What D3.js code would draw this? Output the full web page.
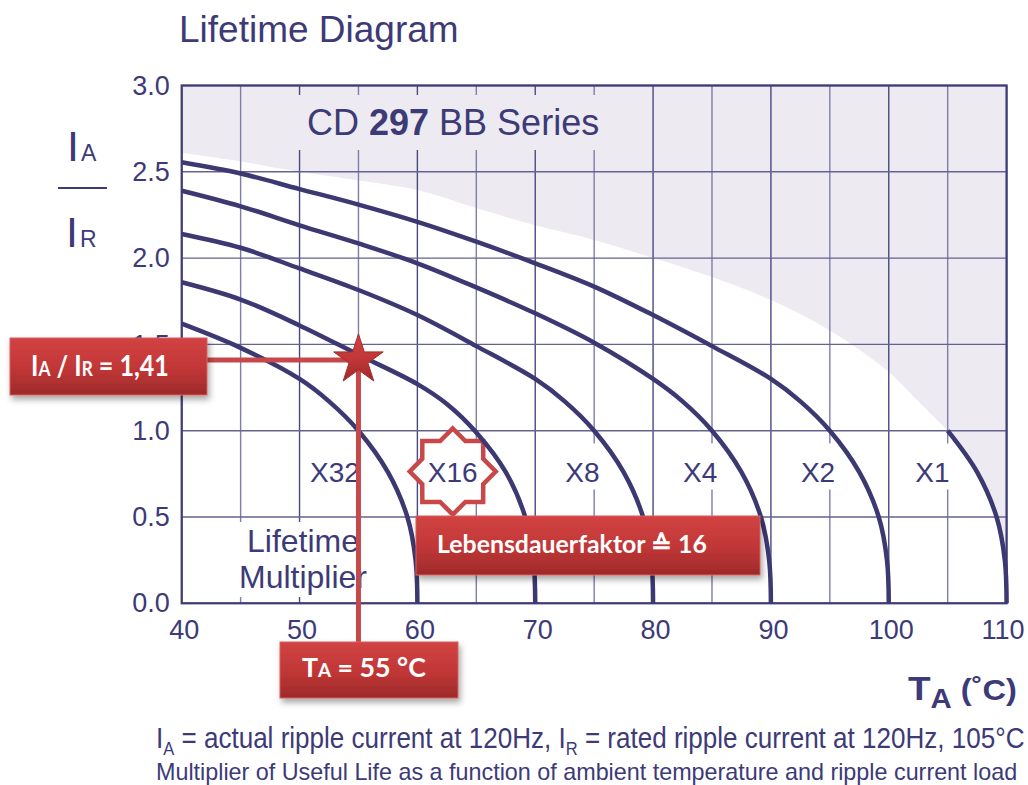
<!DOCTYPE html>
<html lang="en">
<head>
<meta charset="UTF-8">
<title>Lifetime Diagram</title>
<script src="https://d3js.org/d3.v7.min.js"></script>
<style>
  body { margin: 0; background: #fff; }
  svg { display: block; font-family: "Liberation Sans", Arial, sans-serif; }
  .note { font-family: Lato, "Open Sans", sans-serif; font-weight: bold; fill: #fff; }
</style>
</head>
<body>
<div id="chart"></div>
<script>
// axis ticks
var tempTicks = [40, 50, 60, 70, 80, 90, 100, 110];
var ratioTicks = [0.0, 0.5, 1.0, 1.5, 2.0, 2.5, 3.0];

// one curve per lifetime multiplier: ambient temperature (°C) -> IA/IR
var multipliers = ["X32", "X16", "X8", "X4", "X2", "X1"];
var curveTemps = [
    [40, 45, 50, 52.5, 55, 57.5, 59.15, 59.85, 60],
    [40, 45, 50, 55, 60, 62.5, 65, 67.5, 69.15, 69.85, 70],
    [40, 45, 50, 55, 60, 65, 70, 72.5, 75, 77.5, 79.15, 79.85, 80],
    [40, 45, 50, 55, 60, 65, 70, 75, 80, 82.5, 85, 87.5, 89.15, 89.85, 90],
    [40, 45, 50, 55, 60, 65, 70, 75, 80, 85, 90, 92.5, 95, 97.5, 99.15, 99.85, 100],
    [105, 107.5, 109.15, 109.85, 110]
];
var curveRatios = [
    [1.62, 1.48, 1.30, 1.17, 1.0, 0.76, 0.5, 0.25, 0],
    [1.86, 1.76, 1.61, 1.44, 1.27, 1.155, 0.99, 0.76, 0.5, 0.25, 0],
    [2.14, 2.06, 1.94, 1.815, 1.67, 1.49, 1.30, 1.17, 1.0, 0.76, 0.5, 0.25, 0],
    [2.39, 2.30, 2.19, 2.085, 1.97, 1.83, 1.68, 1.51, 1.30, 1.17, 1.0, 0.76, 0.5, 0.25, 0],
    [2.555, 2.49, 2.40, 2.31, 2.21, 2.095, 1.97, 1.835, 1.67, 1.49, 1.30, 1.17, 1.0, 0.76, 0.5, 0.25, 0],
    [1.0, 0.76, 0.5, 0.25, 0]
];
var labelTemps = [53, 63, 74, 84, 94, 103.7];
var labelRatio = 0.7;

// upper edge of the shaded area
var limitTemps = [40, 45, 50, 55, 60, 65, 70, 75, 80, 85, 90, 95, 100, 102.5, 105];
var limitRatios = [2.61, 2.56, 2.50, 2.45, 2.395, 2.29, 2.19, 2.105, 2.0, 1.89, 1.757, 1.58, 1.34, 1.17, 1.0];

// worked example
var exampleTemp = 55, exampleRatio = 1.41, exampleFactor = 16;

var navy = "#3d3a78",
    shade = "#edebf1";

var svg = d3.select("#chart").append("svg")
    .attr("width", 1028)
    .attr("height", 785);

var x = d3.scaleLinear().domain([40, 110]).range([181.7, 1006.6]);
var y = d3.scaleLinear().domain([0, 3]).range([603.3, 85.5]);

var defs = svg.append("defs");
var grad = defs.append("linearGradient").attr("id", "red")
    .attr("x1", 0).attr("y1", 0).attr("x2", 0).attr("y2", 1);
grad.append("stop").attr("offset", "0%").attr("stop-color", "#d24343");
grad.append("stop").attr("offset", "55%").attr("stop-color", "#c03636");
grad.append("stop").attr("offset", "100%").attr("stop-color", "#9d2a2a");
defs.append("filter").attr("id", "shadow")
    .attr("x", "-10%").attr("y", "-20%").attr("width", "130%").attr("height", "170%")
  .append("feDropShadow")
    .attr("dx", 2).attr("dy", 4).attr("stdDeviation", 3)
    .attr("flood-color", "#000").attr("flood-opacity", 0.35);

// stretch / squeeze a text so it covers a given width
function fit(sel, x0, w) {
    var bw = sel.node().getBBox().width;
    var k = w / bw;
    sel.attr("transform", "translate(" + x0 + ",0) scale(" + k + ",1) translate(" + (-x0) + ",0)");
}

var smooth = d3.line().curve(d3.curveCatmullRom.alpha(0.5));
function pts(ts, rs) { return ts.map(function(t, i) { return [x(t), y(rs[i])]; }); }

// shaded area above the limit and right of X1
var shadePath = smooth(pts(limitTemps, limitRatios)) +
    smooth(pts(curveTemps[5], curveRatios[5])).replace(/^M/, "L") +
    "L" + x(110) + "," + y(3) + "L" + x(40) + "," + y(3) + "Z";
svg.append("path").attr("d", shadePath).attr("fill", shade);

// grid
var gridG = svg.append("g");
gridG.selectAll("line.v").data(x.ticks(14)).join("line")
    .attr("class", "v")
    .attr("x1", function(d) { return x(d); })
    .attr("x2", function(d) { return x(d); })
    .attr("y1", y(3)).attr("y2", y(0))
    .attr("stroke", function(d) { return d % 10 === 0 ? "#4a4880" : "#7f7daa"; })
    .attr("stroke-width", 1.4);
gridG.selectAll("line.h").data(ratioTicks).join("line")
    .attr("class", "h")
    .attr("x1", x(40)).attr("x2", x(110))
    .attr("y1", function(d) { return y(d); })
    .attr("y2", function(d) { return y(d); })
    .attr("stroke", "#64628f")
    .attr("stroke-width", 1.4);

// frame
svg.append("rect")
    .attr("x", x(40)).attr("y", y(3))
    .attr("width", x(110) - x(40)).attr("height", y(0) - y(3))
    .attr("fill", "none").attr("stroke", "#3f3c76").attr("stroke-width", 2.2);

var boxG = svg.append("g");
var starG = svg.append("g");
var curveG = svg.append("g");
var labelG = svg.append("g");

// series title
svg.append("rect").attr("x", 245).attr("y", 95).attr("width", 400).attr("height", 55).attr("fill", shade);
var series = svg.append("text").attr("x", 307).attr("y", 135)
    .attr("font-size", 36).attr("fill", navy);
series.append("tspan").text("CD ");
series.append("tspan").attr("font-weight", "bold").text("297");
series.append("tspan").text(" BB Series");

// curves
curveG.selectAll("path").data(multipliers).join("path")
    .attr("d", function(m, i) { return smooth(pts(curveTemps[i], curveRatios[i])); })
    .attr("fill", "none")
    .attr("stroke", "#3b3872")
    .attr("stroke-width", 4.5);

// multiplier labels with white backing
var labels = labelG.selectAll("text.m").data(multipliers).join("text")
    .attr("class", "m")
    .attr("x", function(m, i) { return x(labelTemps[i]); })
    .attr("y", y(labelRatio))
    .attr("text-anchor", "middle")
    .attr("font-size", 28)
    .attr("fill", navy)
    .text(function(m) { return m; });
labels.each(function() {
    var b = this.getBBox();
    boxG.append("rect").attr("x", b.x - 5).attr("y", b.y - 14)
        .attr("width", b.width + 10).attr("height", b.height + 15).attr("fill", "#fff");
});

var lm = labelG.append("text").attr("text-anchor", "middle").attr("font-size", 32).attr("fill", navy);
lm.append("tspan").attr("x", 303).attr("y", 552).text("Lifetime");
lm.append("tspan").attr("x", 303).attr("y", 588).text("Multiplier");
var lb = lm.node().getBBox();
boxG.append("rect").attr("x", lb.x - 4).attr("y", lb.y - 1)
    .attr("width", lb.width + 8).attr("height", lb.height + 3).attr("fill", "#fff");

// 8-point star around the resulting multiplier
var k = multipliers.indexOf("X" + exampleFactor);
var cx = x(labelTemps[k]), cy = y(labelRatio) - 11;
var star8 = d3.range(16).map(function(i) {
    var a = i * Math.PI / 8 - Math.PI / 2, r = i % 2 ? 33 : 43;
    return [cx + r * Math.cos(a), cy + r * Math.sin(a)];
});
starG.append("path").attr("d", d3.line()(star8) + "Z")
    .attr("fill", "#fff").attr("stroke", "#c8484a").attr("stroke-width", 4.5);

// axes
var yAxis = svg.append("g").attr("transform", "translate(" + x(40) + ",0)")
    .call(d3.axisLeft(y).tickValues(ratioTicks).tickFormat(d3.format(".1f")).tickSize(0).tickPadding(12));
var xAxis = svg.append("g").attr("transform", "translate(0," + y(0) + ")")
    .call(d3.axisBottom(x).tickValues(tempTicks).tickFormat(d3.format("d")).tickSize(0).tickPadding(17));
[yAxis, xAxis].forEach(function(a) {
    a.select(".domain").remove();
    a.selectAll("text").attr("font-size", 27).attr("fill", navy)
        .attr("font-family", "'Liberation Sans', Arial, sans-serif");
});
xAxis.selectAll("text").attr("dx", function(d) { return d === 110 ? -4 : 2; });

// titles
svg.append("text").attr("x", 179).attr("y", 42).attr("font-size", 37).attr("fill", navy).text("Lifetime Diagram");

var yl = svg.append("g").attr("fill", navy);
var ya = yl.append("text").attr("x", 67).attr("y", 161).attr("font-size", 43);
ya.append("tspan").text("I");
ya.append("tspan").attr("font-size", 23).attr("dx", 2).text("A");
yl.append("line").attr("x1", 58).attr("x2", 107).attr("y1", 188).attr("y2", 188)
    .attr("stroke", navy).attr("stroke-width", 2);
var yr = yl.append("text").attr("x", 66).attr("y", 247).attr("font-size", 43);
yr.append("tspan").text("I");
yr.append("tspan").attr("font-size", 23).attr("dx", 2).text("R");

var xl = svg.append("text").attr("x", 908).attr("y", 700).attr("font-weight", "bold").attr("fill", navy);
xl.append("tspan").attr("font-size", 34).text("T");
xl.append("tspan").attr("font-size", 27).attr("dy", 8).text("A");
xl.append("tspan").attr("font-size", 30).attr("dy", -8).text(" (˚C)");
fit(xl, 908, 109);

var f1 = svg.append("text").attr("x", 156).attr("y", 748).attr("font-size", 30).attr("fill", navy);
f1.append("tspan").text("I");
f1.append("tspan").attr("font-size", 19).attr("dy", 7).text("A");
f1.append("tspan").attr("dy", -7).text(" = actual ripple current at 120Hz, I");
f1.append("tspan").attr("font-size", 19).attr("dy", 7).text("R");
f1.append("tspan").attr("dy", -7).text(" = rated ripple current at 120Hz, 105°C");
fit(f1, 156, 869);

var f2 = svg.append("text").attr("x", 156).attr("y", 780).attr("font-size", 23).attr("fill", navy)
    .text("Multiplier of Useful Life as a function of ambient temperature and ripple current load");
fit(f2, 156, 862);

// worked example: lines, star and red notes
var sx = x(exampleTemp), sy = y(exampleRatio);
svg.append("line").attr("x1", 207).attr("x2", sx).attr("y1", sy).attr("y2", sy)
    .attr("stroke", "#c6484a").attr("stroke-width", 5);
svg.append("line").attr("x1", sx).attr("x2", sx).attr("y1", sy).attr("y2", 642)
    .attr("stroke", "#c6484a").attr("stroke-width", 5);
svg.append("path").attr("d", d3.symbol().type(d3.symbolStar).size(760)())
    .attr("transform", "translate(" + sx + "," + sy + ")")
    .attr("fill", "url(#red)").attr("stroke", "#a22c2c").attr("stroke-width", 1);

function noteBox(bx, by, bw, bh) {
    svg.append("rect").attr("x", bx).attr("y", by).attr("width", bw).attr("height", bh)
        .attr("fill", "url(#red)").attr("stroke", "#d66060").attr("stroke-width", 1)
        .attr("filter", "url(#shadow)");
}

noteBox(10, 338, 197, 57);
var n1 = svg.append("text").attr("class", "note").attr("x", 31).attr("y", 376).attr("font-size", 29);
n1.append("tspan").text("I");
n1.append("tspan").attr("font-size", 20).text("A");
n1.append("tspan").text(" / I");
n1.append("tspan").attr("font-size", 20).text("R");
n1.append("tspan").text(" = " + d3.format(".2f")(exampleRatio).replace(".", ","));
fit(n1, 31, 138);

noteBox(280, 642, 178, 56);
var n2 = svg.append("text").attr("class", "note").attr("x", 302).attr("y", 677).attr("font-size", 27);
n2.append("tspan").text("T");
n2.append("tspan").attr("font-size", 19).text("A");
n2.append("tspan").text(" = " + exampleTemp + " °C");
fit(n2, 302, 124);

noteBox(416, 516, 344, 59);
var n3 = svg.append("text").attr("class", "note").attr("x", 437).attr("y", 553).attr("font-size", 25)
    .text("Lebensdauerfaktor ≙ " + exampleFactor);
fit(n3, 437, 270);
</script>
</body>
</html>
